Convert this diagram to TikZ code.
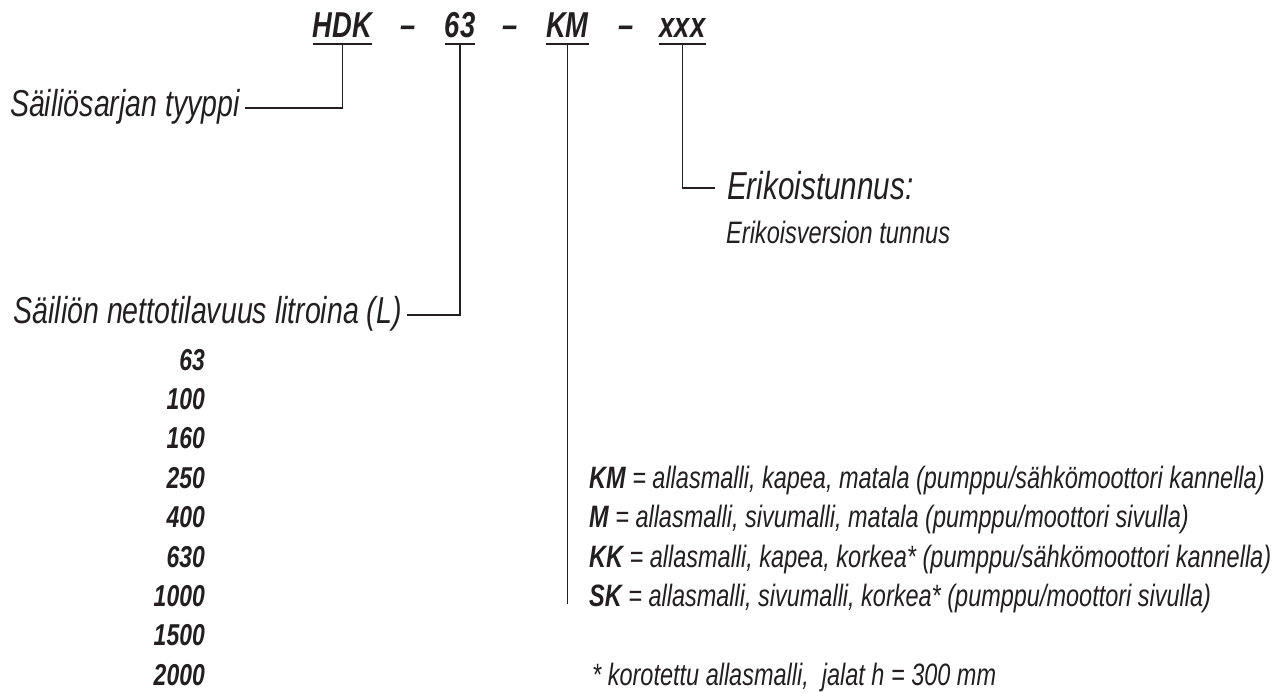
\documentclass[tikz,border=0pt]{standalone}
\usepackage{fontspec}
\setmainfont{Liberation Sans}[FakeStretch=0.76]
\definecolor{ink}{HTML}{231F20}
\begin{document}
\begin{tikzpicture}[x=1pt,y=-1pt,
  title/.style={inner sep=0pt, text=ink, font=\fontsize{36pt}{42pt}\selectfont\bfseries\itshape},
  big/.style={inner sep=0pt, text=ink, font=\fontsize{37.5pt}{43pt}\selectfont\itshape},
  small/.style={inner sep=0pt, text=ink, font=\fontsize{31pt}{36pt}\selectfont\itshape},
  num/.style={inner sep=0pt, text=ink, anchor=base east, font=\fontsize{30.2pt}{35pt}\selectfont\bfseries\itshape},
  row/.style={inner sep=0pt, text=ink, anchor=base west, font=\fontsize{30.9pt}{36pt}\selectfont\itshape},
  ln/.style={draw=ink, line width=1.1pt}]
\useasboundingbox (0,0) rectangle (1288,693);

% title parts
\node[title, anchor=base] (hdk) at (342.5,38) {HDK};
\node[title, anchor=base] (d1)  at (408,38) {–};
\node[title, anchor=base] (n63) at (460,38) {63};
\node[title, anchor=base] (d2)  at (510,38) {–};
\node[title, anchor=base] (km)  at (567.5,38) {KM};
\node[title, anchor=base] (d3)  at (626,38) {–};
\node[title, anchor=base] (xxx) at (682.5,38) {xxx};

% underlines
\foreach \n in {hdk,n63,km,xxx}
  \draw[ln] ([yshift=-6pt]\n.base west) -- ([yshift=-6pt]\n.base east);

% labels
\node[big, anchor=base east] (sarja) at (240,116) {Säiliösarjan tyyppi};
\node[big, anchor=base east] (netto) at (402,323) {Säiliön nettotilavuus litroina (L)};
\node[big, anchor=base west, font=\fontsize{39pt}{45pt}\selectfont\itshape] (erik) at (727,199) {Erikoistunnus:};
\node[small, anchor=base west] (erikv) at (726,243) {Erikoisversion tunnus};

% leader end points
\coordinate (e1) at (245,108);
\coordinate (e2) at (407,315);
\coordinate (e3) at (715,188);
\coordinate (e4) at (569,604);

\draw[ln] ([yshift=-6pt]hdk.base) |- (e1);
\draw[ln] ([yshift=-6pt]n63.base) |- (e2);
\draw[ln] ([yshift=-6pt]xxx.base) |- (e3);
\draw[ln] ([yshift=-6pt]km.base) -- (km.base |- e4);

% volumes
\foreach \v [count=\i from 0] in {63,100,160,250,400,630,1000,1500,2000}
  \node[num] (v\v) at (205,{370+39.4*\i}) {\v};

% model rows
\node[row] (rkm) at (589,488) {\textbf{KM} = allasmalli, kapea, matala (pumppu/sähkömoottori kannella)};
\node[row] (rm)  at (589,527) {\textbf{M} = allasmalli, sivumalli, matala (pumppu/moottori sivulla)};
\node[row] (rkk) at (589,567) {\textbf{KK} = allasmalli, kapea, korkea* (pumppu/sähkömoottori kannella)};
\node[row] (rsk) at (589,606) {\textbf{SK} = allasmalli, sivumalli, korkea* (pumppu/moottori sivulla)};
\node[row] (foot) at (592,685) {* korotettu allasmalli,\ \ jalat h = 300 mm};
\end{tikzpicture}
\end{document}
